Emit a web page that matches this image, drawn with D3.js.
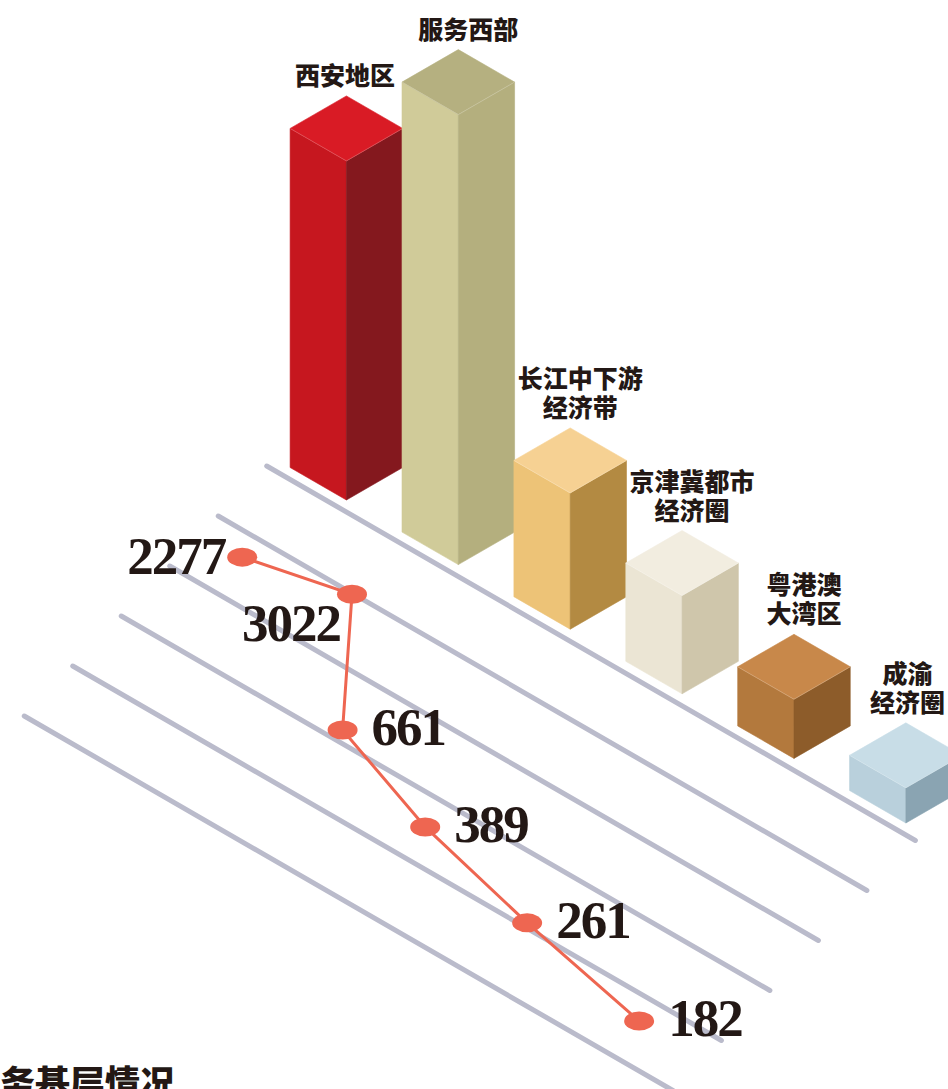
<!DOCTYPE html>
<html>
<head>
<meta charset="utf-8">
<script src="https://cdn.jsdelivr.net/npm/d3@7"></script>
<style>
  html, body { margin: 0; padding: 0; background: #fff; }
  svg { display: block; }
  .cat { font-family: "Noto Sans CJK SC", "Noto Sans", sans-serif; font-weight: 900; font-size: 25px; fill: #231815; }
  .num { font-family: "Liberation Serif", "DejaVu Serif", serif; font-weight: 700; font-size: 53px; letter-spacing: -2px; fill: #231815; }
  .foot { font-family: "Noto Sans CJK SC", sans-serif; font-weight: 900; font-size: 35px; fill: #231815; }
</style>
</head>
<body>
<div id="chart"></div>
<script>
// Data ////////////////////////////////////////
const categories = ['西安地区', '服务西部', '长江中下游经济带', '京津冀都市经济圈', '粤港澳大湾区', '成渝经济圈'];
const categoryLines = [['西安地区'], ['服务西部'], ['长江中下游', '经济带'], ['京津冀都市', '经济圈'], ['粤港澳', '大湾区'], ['成渝', '经济圈']];
// line values (labels on the red line)
const lineValues = [2277, 3022, 661, 389, 261, 182];
// bar heights, in the same units as the two tall bars
const barValues = [2277, 3022, 915, 660, 397, 236];
const gridRows = [0, 1, 2, 3, 4, 5];

// palette: [top, left, right]
const barColors = [
  ['#d91b25', '#c6171f', '#84181e'],
  ['#b5b080', '#d0cb99', '#b4af7e'],
  ['#f6d193', '#edc377', '#b38a42'],
  ['#f2ede0', '#ebe5d4', '#cfc6ab'],
  ['#c8884a', '#b3793d', '#8d5c2a'],
  ['#c8dde7', '#b9d0dc', '#8aa4b2'],
];
const lineColor = '#ee6651';
const gridColor = '#babbcb';

const width = 948;
const height = 1089;

// isometric projection: a runs down-right, b runs down-left, z is up
const C30 = Math.cos(Math.PI / 6);
const iso = (a, b, z = 0) => [C30 * (a - b), 0.5 * (a + b) - z];

const svg = d3
  .select('#chart')
  .append('svg')
  .attr('width', width)
  .attr('height', height);

// Scales //////////////////////////////////////
const barPos = d3.scalePoint().domain(categories).range([700, 1346]);
const barDepth = 300;
const barSize = 65;
const barH = d3.scaleLinear().domain([0, 3022]).range([0, 450]);

const lineIdx = d3.scalePow().exponent(1.2).domain([0, categories.length - 1]).range([697, 1390]);
const lineDepth = d3.scaleLog().domain([182, 3022]).range([652, 391]);

const gridB = d3.scaleLinear().domain([0, 5]).range([312, 702]);
const gridA = d3.scaleLinear().domain([0, 5]).range([620, 730]);
const gridLen = 749;

// Grid lines //////////////////////////////////
svg
  .append('g')
  .selectAll('line')
  .data(gridRows)
  .enter()
  .append('line')
  .attr('x1', d => iso(gridA(d), gridB(d))[0])
  .attr('y1', d => iso(gridA(d), gridB(d))[1])
  .attr('x2', d => iso(gridA(d) + gridLen, gridB(d))[0])
  .attr('y2', d => iso(gridA(d) + gridLen, gridB(d))[1])
  .attr('stroke', gridColor)
  .attr('stroke-width', 5)
  .attr('stroke-linecap', 'round');

// Bars ////////////////////////////////////////
const pts = arr => arr.map(p => p.join(',')).join(' ');

const bars = svg
  .append('g')
  .selectAll('g')
  .data(categories)
  .enter()
  .append('g');

bars.each(function(c, i) {
  const a = barPos(c);
  const b = barDepth;
  const s = barSize;
  const h = barH(barValues[i]);
  const g = d3.select(this);
  const col = barColors[i];
  const faces = [
    { p: [iso(a - s, b, 0), iso(a, b, 0), iso(a, b, h), iso(a - s, b, h)], f: col[1] },
    { p: [iso(a, b - s, 0), iso(a, b, 0), iso(a, b, h), iso(a, b - s, h)], f: col[2] },
    { p: [iso(a - s, b - s, h), iso(a, b - s, h), iso(a, b, h), iso(a - s, b, h)], f: col[0] },
  ];
  g.selectAll('polygon')
    .data(faces)
    .enter()
    .append('polygon')
    .attr('points', d => pts(d.p))
    .attr('fill', d => d.f)
    .attr('stroke', d => d.f)
    .attr('stroke-width', 0.6)
    .attr('stroke-linejoin', 'round');
  // faint highlight on the top edges
  g.append('polyline')
    .attr('points', pts([iso(a - s, b, h), iso(a, b, h), iso(a, b - s, h)]))
    .attr('fill', 'none')
    .attr('stroke', '#fff')
    .attr('stroke-opacity', 0.25)
    .attr('stroke-width', 0.8);
});

// Bar labels //////////////////////////////////
const labelG = svg.append('g');
categories.forEach((c, i) => {
  const a = barPos(c);
  const h = barH(barValues[i]);
  const top = iso(a - barSize, barDepth - barSize, h);
  const lines = categoryLines[i];
  const lh = 29;
  const baseY = top[1] - 11;
  const t = labelG
    .append('text')
    .attr('class', 'cat')
    .attr('text-anchor', 'middle');
  lines.forEach((l, j) => {
    t.append('tspan')
      .attr('x', 0)
      .attr('y', baseY - (lines.length - 1 - j) * lh)
      .text(l);
  });
  const w = t.node().getBBox().width;
  let cx = top[0] + 10;
  // keep clear of the next (taller) bar
  if (i < categories.length - 1) {
    const na = barPos(categories[i + 1]);
    const nh = barH(barValues[i + 1]);
    const nLeft = iso(na - barSize, barDepth, nh);
    const nTop = iso(na - barSize, barDepth - barSize, nh);
    if (baseY > nTop[1] && cx + w / 2 > nLeft[0] - 7) {
      cx = nLeft[0] - 7 - w / 2;
    }
  }
  // and inside the page
  cx = Math.min(cx, width - 3 - w / 2);
  t.selectAll('tspan').attr('x', cx);
});

// Red line ////////////////////////////////////
const linePts = lineValues.map((v, i) => iso(lineIdx(i), lineDepth(v)));

svg
  .append('path')
  .datum(linePts)
  .attr('d', d3.line())
  .attr('fill', 'none')
  .attr('stroke', lineColor)
  .attr('stroke-width', 3);

svg
  .append('g')
  .selectAll('ellipse')
  .data(linePts)
  .enter()
  .append('ellipse')
  .attr('cx', d => d[0])
  .attr('cy', d => d[1])
  .attr('rx', 15)
  .attr('ry', 9.5)
  .attr('fill', lineColor);

// value labels
svg
  .append('g')
  .selectAll('text')
  .data(lineValues)
  .enter()
  .append('text')
  .attr('class', 'num')
  .attr('text-anchor', (d, i) => (i < 2 ? 'end' : 'start'))
  .attr('x', (d, i) => linePts[i][0] + (i === 0 ? -17 : i === 1 ? -12 : 29))
  .attr('y', (d, i) => linePts[i][1] + (i === 0 ? 17 : i === 1 ? 47 : 15))
  .text(d => d);

// cut-off heading at the bottom
svg
  .append('text')
  .attr('class', 'foot')
  .attr('text-anchor', 'end')
  .attr('x', 175)
  .attr('y', 1096)
  .text('服务基层情况');
</script>
</body>
</html>
